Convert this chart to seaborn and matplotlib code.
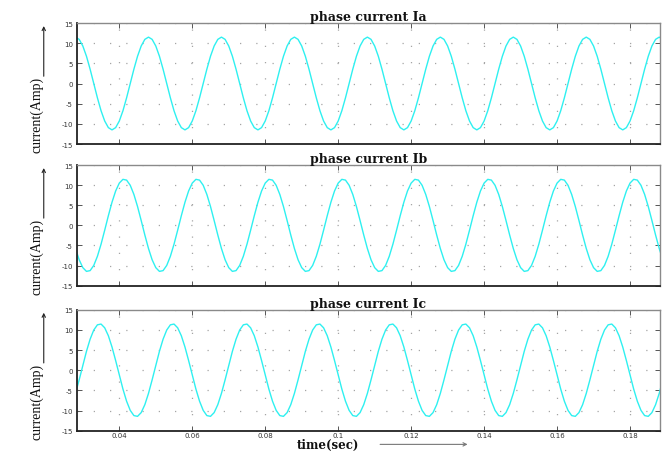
import numpy as np
import pandas as pd
import matplotlib
matplotlib.use("Agg")
import matplotlib.pyplot as plt
import seaborn as sns

# ---------------- data ----------------
time_s = np.round(np.arange(0.028, 0.1895, 0.001), 3)   # sample instants (s)

ia = [11.5, 10.94, 9.30, 6.76, 3.55, 0.0, -3.55, -6.76, -9.30, -10.94, -11.5, -10.94, -9.30, -6.76, -3.55, 0.0, 3.55, 6.76, 9.30, 10.94,
      11.5, 10.94, 9.30, 6.76, 3.55, 0.0, -3.55, -6.76, -9.30, -10.94, -11.5, -10.94, -9.30, -6.76, -3.55, 0.0, 3.55, 6.76, 9.30, 10.94,
      11.5, 10.94, 9.30, 6.76, 3.55, 0.0, -3.55, -6.76, -9.30, -10.94, -11.5, -10.94, -9.30, -6.76, -3.55, 0.0, 3.55, 6.76, 9.30, 10.94,
      11.5, 10.94, 9.30, 6.76, 3.55, 0.0, -3.55, -6.76, -9.30, -10.94, -11.5, -10.94, -9.30, -6.76, -3.55, 0.0, 3.55, 6.76, 9.30, 10.94,
      11.5, 10.94, 9.30, 6.76, 3.55, 0.0, -3.55, -6.76, -9.30, -10.94, -11.5, -10.94, -9.30, -6.76, -3.55, 0.0, 3.55, 6.76, 9.30, 10.94,
      11.5, 10.94, 9.30, 6.76, 3.55, 0.0, -3.55, -6.76, -9.30, -10.94, -11.5, -10.94, -9.30, -6.76, -3.55, 0.0, 3.55, 6.76, 9.30, 10.94,
      11.5, 10.94, 9.30, 6.76, 3.55, 0.0, -3.55, -6.76, -9.30, -10.94, -11.5, -10.94, -9.30, -6.76, -3.55, 0.0, 3.55, 6.76, 9.30, 10.94,
      11.5, 10.94, 9.30, 6.76, 3.55, 0.0, -3.55, -6.76, -9.30, -10.94, -11.5, -10.94, -9.30, -6.76, -3.55, 0.0, 3.55, 6.76, 9.30, 10.94,
      11.5, 10.94]

ib = [-5.75, -8.55, -10.51, -11.44, -11.25, -9.96, -7.69, -4.68, -1.20, 2.39, 5.75, 8.55, 10.51, 11.44, 11.25, 9.96, 7.69, 4.68, 1.20, -2.39,
      -5.75, -8.55, -10.51, -11.44, -11.25, -9.96, -7.69, -4.68, -1.20, 2.39, 5.75, 8.55, 10.51, 11.44, 11.25, 9.96, 7.69, 4.68, 1.20, -2.39,
      -5.75, -8.55, -10.51, -11.44, -11.25, -9.96, -7.69, -4.68, -1.20, 2.39, 5.75, 8.55, 10.51, 11.44, 11.25, 9.96, 7.69, 4.68, 1.20, -2.39,
      -5.75, -8.55, -10.51, -11.44, -11.25, -9.96, -7.69, -4.68, -1.20, 2.39, 5.75, 8.55, 10.51, 11.44, 11.25, 9.96, 7.69, 4.68, 1.20, -2.39,
      -5.75, -8.55, -10.51, -11.44, -11.25, -9.96, -7.69, -4.68, -1.20, 2.39, 5.75, 8.55, 10.51, 11.44, 11.25, 9.96, 7.69, 4.68, 1.20, -2.39,
      -5.75, -8.55, -10.51, -11.44, -11.25, -9.96, -7.69, -4.68, -1.20, 2.39, 5.75, 8.55, 10.51, 11.44, 11.25, 9.96, 7.69, 4.68, 1.20, -2.39,
      -5.75, -8.55, -10.51, -11.44, -11.25, -9.96, -7.69, -4.68, -1.20, 2.39, 5.75, 8.55, 10.51, 11.44, 11.25, 9.96, 7.69, 4.68, 1.20, -2.39,
      -5.75, -8.55, -10.51, -11.44, -11.25, -9.96, -7.69, -4.68, -1.20, 2.39, 5.75, 8.55, 10.51, 11.44, 11.25, 9.96, 7.69, 4.68, 1.20, -2.39,
      -5.75, -8.55]

ic = [-5.75, -2.39, 1.20, 4.68, 7.69, 9.96, 11.25, 11.44, 10.51, 8.55, 5.75, 2.39, -1.20, -4.68, -7.69, -9.96, -11.25, -11.44, -10.51, -8.55,
      -5.75, -2.39, 1.20, 4.68, 7.69, 9.96, 11.25, 11.44, 10.51, 8.55, 5.75, 2.39, -1.20, -4.68, -7.69, -9.96, -11.25, -11.44, -10.51, -8.55,
      -5.75, -2.39, 1.20, 4.68, 7.69, 9.96, 11.25, 11.44, 10.51, 8.55, 5.75, 2.39, -1.20, -4.68, -7.69, -9.96, -11.25, -11.44, -10.51, -8.55,
      -5.75, -2.39, 1.20, 4.68, 7.69, 9.96, 11.25, 11.44, 10.51, 8.55, 5.75, 2.39, -1.20, -4.68, -7.69, -9.96, -11.25, -11.44, -10.51, -8.55,
      -5.75, -2.39, 1.20, 4.68, 7.69, 9.96, 11.25, 11.44, 10.51, 8.55, 5.75, 2.39, -1.20, -4.68, -7.69, -9.96, -11.25, -11.44, -10.51, -8.55,
      -5.75, -2.39, 1.20, 4.68, 7.69, 9.96, 11.25, 11.44, 10.51, 8.55, 5.75, 2.39, -1.20, -4.68, -7.69, -9.96, -11.25, -11.44, -10.51, -8.55,
      -5.75, -2.39, 1.20, 4.68, 7.69, 9.96, 11.25, 11.44, 10.51, 8.55, 5.75, 2.39, -1.20, -4.68, -7.69, -9.96, -11.25, -11.44, -10.51, -8.55,
      -5.75, -2.39, 1.20, 4.68, 7.69, 9.96, 11.25, 11.44, 10.51, 8.55, 5.75, 2.39, -1.20, -4.68, -7.69, -9.96, -11.25, -11.44, -10.51, -8.55,
      -5.75, -2.39]

titles = ["phase current Ia", "phase current Ib", "phase current Ic"]
y_ticks = [-15, -10, -5, 0, 5, 10, 15]
x_ticks = [0.04, 0.06, 0.08, 0.10, 0.12, 0.14, 0.16, 0.18]
x_tick_labels = ["0.04", "0.06", "0.08", "0.1", "0.12", "0.14", "0.16", "0.18"]
y_label = "current(Amp)"
x_label = "time(sec)"

# ---------------- figure ----------------
sns.set_style("white")
plt.rcParams["font.family"] = ["DejaVu Sans"]

fig = plt.figure(figsize=(6.70, 4.52), dpi=100)
fig.patch.set_facecolor("white")

# axes rectangles (left, bottom, width, height) in figure fractions
rects = [
    (0.1149, 0.6792, 0.8701, 0.2677),
    (0.1149, 0.3657, 0.8701, 0.2670),
    (0.1149, 0.0449, 0.8701, 0.2677),
]

series = [ia, ib, ic]
for i, (rect, vals, ttl) in enumerate(zip(rects, series, titles)):
    ax = fig.add_axes(rect)
    df = pd.DataFrame({"t": time_s, "i": vals})
    sns.lineplot(data=df, x="t", y="i", ax=ax, color="#2EF0F0", linewidth=1.0)
    ax.set_xlim(0.0284, 0.1882)
    ax.set_ylim(-15, 15)
    ax.set_yticks(y_ticks)
    ax.set_yticklabels([str(v) for v in y_ticks])
    ax.set_xticks(x_ticks)
    if i == 2:
        ax.set_xticklabels(x_tick_labels)
    else:
        ax.set_xticklabels([])
    ax.tick_params(axis="both", which="both", direction="in", length=3.5, width=0.7,
                   top=True, right=True, bottom=True, left=True,
                   labelsize=5, labelcolor="#333333", color="#555555")
    ax.tick_params(axis="y", pad=3)
    ax.tick_params(axis="x", pad=0.8)
    ax.grid(True, linestyle=(0, (1, 12)), color="#a5a5a5", linewidth=0.9)
    for side in ["top", "right"]:
        ax.spines[side].set_color("#8a8a8a")
        ax.spines[side].set_linewidth(1.0)
    for side in ["left", "bottom"]:
        ax.spines[side].set_color("#222222")
        ax.spines[side].set_linewidth(1.3)
    ax.set_title(ttl, fontsize=9, fontweight="bold", family="DejaVu Serif",
                 color="#111111", pad=2)
    # y label with upward arrow
    ax.set_ylabel(y_label, fontsize=10, family="Liberation Serif", color="#111111")
    ax.yaxis.set_label_coords(-0.058, 0.25)
    ax.annotate("", xy=(-0.057, 0.975), xytext=(-0.057, 0.56), xycoords="axes fraction",
                arrowprops=dict(arrowstyle="->", color="#222222", lw=0.8,
                                shrinkA=0, shrinkB=0, mutation_scale=6))
    if i == 2:
        ax.set_xlabel(x_label, fontsize=8.5, fontweight="bold", family="DejaVu Serif",
                      color="#111111")
        ax.xaxis.label.set_va("center")
        ax.xaxis.set_label_coords(0.431, -0.112)
        ax.annotate("", xy=(0.67, -0.113), xytext=(0.52, -0.113), xycoords="axes fraction",
                    arrowprops=dict(arrowstyle="->", color="#777777", lw=0.8,
                                    shrinkA=0, shrinkB=0, mutation_scale=6))
    else:
        ax.set_xlabel("")

fig.savefig("out.png", dpi=100, facecolor="white")
